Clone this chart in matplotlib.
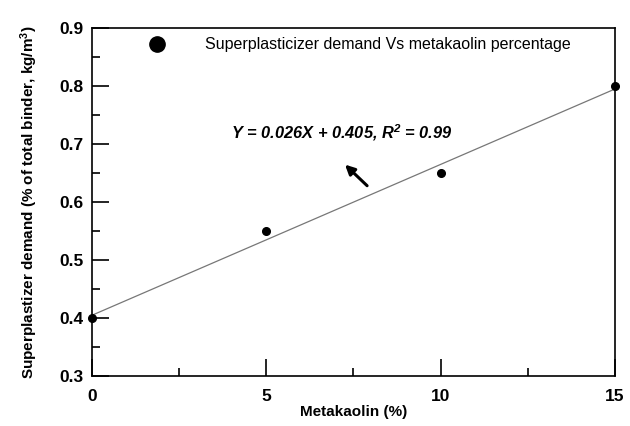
import numpy as np
import matplotlib.pyplot as plt
from matplotlib.ticker import MultipleLocator

plt.rcParams['font.family'] = ['Liberation Sans', 'DejaVu Sans']
plt.rcParams['mathtext.default'] = 'regular'

# metakaolin replacement (%) and superplasticizer demand
mk = [0, 5, 10, 15]
sp_demand = [0.40, 0.55, 0.65, 0.80]

# linear fit reported on the chart
slope = 0.026
intercept = 0.405
r2 = 0.99

fig = plt.figure(figsize=(6.3, 4.26), dpi=100)
ax = fig.add_axes([0.146, 0.117, 0.830, 0.817])

xfit = np.array([0, 15])
ax.plot(xfit, slope * xfit + intercept, color='#777777', lw=0.9)
ax.plot(mk, sp_demand, 'o', color='black', ms=5.5, clip_on=False, zorder=3)

# legend-like key
ax.plot([1.86], [0.872], 'o', color='black', ms=11)
ax.text(3.25, 0.872, 'Superplasticizer demand Vs metakaolin percentage',
        fontsize=11.5, va='center', ha='left')

ax.text(4.0, 0.72, 'Y = %.3fX + %.3f, R$^{2}$ = %.2f' % (slope, intercept, r2),
        fontsize=11.8, style='italic', fontweight='bold', va='center', ha='left')
ax.annotate('', xy=(7.2, 0.668), xytext=(7.95, 0.625),
            arrowprops=dict(arrowstyle='-|>', color='black', lw=2.2, mutation_scale=14))

ax.set_xlim(0, 15)
ax.set_ylim(0.3, 0.9)
ax.xaxis.set_major_locator(MultipleLocator(5))
ax.xaxis.set_minor_locator(MultipleLocator(2.5))
ax.yaxis.set_major_locator(MultipleLocator(0.1))
ax.yaxis.set_minor_locator(MultipleLocator(0.05))
ax.tick_params(which='both', direction='in', top=False, right=False, width=1.2)
ax.tick_params(which='major', length=12, labelsize=12.5)
ax.tick_params(axis='x', which='major', pad=9)
ax.tick_params(axis='y', which='major', pad=6)
ax.tick_params(which='minor', length=6)
for lab in ax.get_xticklabels() + ax.get_yticklabels():
    lab.set_fontweight('bold')
for s in ax.spines.values():
    s.set_linewidth(1.2)

ax.set_xlabel('Metakaolin (%)', fontsize=11, fontweight='bold', labelpad=1)
ax.set_ylabel('Superplastizer demand (% of total binder, kg/m$^3$)', fontsize=11,
              fontweight='bold', labelpad=14)

fig.savefig('out.png', dpi=100)
